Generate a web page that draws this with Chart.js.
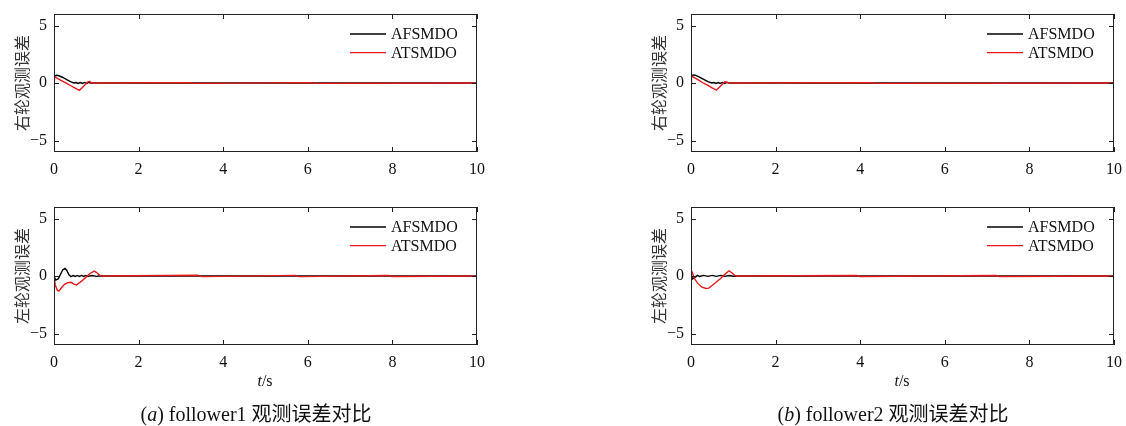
<!DOCTYPE html>
<html>
<head>
<meta charset="utf-8">
<script src="https://cdn.jsdelivr.net/npm/chart.js@4/dist/chart.umd.min.js"></script>
<style>
  html, body { margin: 0; padding: 0; background: #fff; overflow: hidden; }
  body { width: 1126px; height: 426px; position: relative; }
  canvas { position: absolute; }
  .lbl { position: absolute; font-family: "Liberation Serif", "Noto Sans CJK SC", serif; color: #111; white-space: nowrap; transform: translate(-50%, -50%); }
  .xt { font-size: 16px; }
  .cap { font-size: 20px; }
</style>
</head>
<body>
<canvas id="aTop" width="497" height="182" style="left:0;top:0"></canvas>
<canvas id="aBot" width="497" height="181" style="left:0;top:194px"></canvas>
<canvas id="bTop" width="489" height="182" style="left:637px;top:0"></canvas>
<canvas id="bBot" width="489" height="181" style="left:637px;top:194px"></canvas>

<div class="lbl xt" style="left:265px;top:381px"><i>t</i>/s</div>
<div class="lbl xt" style="left:902px;top:381px"><i>t</i>/s</div>
<div class="lbl cap" style="left:256px;top:412px">(<i>a</i>) follower1 观测误差对比</div>
<div class="lbl cap" style="left:893px;top:412px">(<i>b</i>) follower2 观测误差对比</div>

<script>
// series names
const seriesNames = ['AFSMDO', 'ATSMDO'];
// axis ticks
const xTickValues = [0, 2, 4, 6, 8, 10];
const yTickValues = [-5, 0, 5];
const yRange = [-6, 6];
const xRange = [0, 10];

// follower1, right wheel: [t, error]
const f1RightAFSMDO = [[0,0.55],[0.05,0.67],[0.1,0.65],[0.2,0.5],[0.3,0.3],[0.4,0.1],[0.47,0.0],[0.52,0.04],[0.57,-0.04],[0.62,0.04],[0.67,-0.04],[0.72,0.05],[0.77,-0.04],[0.82,0.05],[0.87,0],[10,0]];
const f1RightATSMDO = [[0,0],[0.01,0.55],[0.1,0.36],[0.2,0.16],[0.3,-0.04],[0.4,-0.24],[0.5,-0.44],[0.6,-0.64],[0.7,-0.28],[0.8,0.1],[0.84,0.14],[0.9,0.0],[3.2,0.03],[3.3,-0.03],[6.1,0.03],[6.2,-0.03],[10,0]];
// follower1, left wheel
const f1LeftAFSMDO = [[0,0],[0.04,-0.35],[0.1,-0.25],[0.16,0.2],[0.21,0.55],[0.26,0.66],[0.3,0.5],[0.35,0.12],[0.4,-0.05],[0.45,0.04],[0.5,-0.04],[0.55,0.05],[0.6,-0.04],[0.65,0.05],[0.7,-0.04],[0.75,0.05],[0.8,-0.04],[0.9,0.04],[1.0,-0.03],[1.05,0],[10,0]];
const f1LeftATSMDO = [[0,0],[0.03,-0.8],[0.08,-1.25],[0.12,-1.3],[0.18,-1.0],[0.25,-0.72],[0.32,-0.58],[0.4,-0.55],[0.47,-0.7],[0.53,-0.78],[0.65,-0.45],[0.75,-0.12],[0.85,0.22],[0.95,0.42],[1.0,0.32],[1.08,0.06],[1.15,0],[3.4,0.06],[3.5,-0.05],[5.7,0.05],[5.8,-0.05],[7.9,0.04],[8.0,-0.04],[10,0]];
// follower2, right wheel
const f2RightAFSMDO = [[0,0.6],[0.05,0.7],[0.1,0.68],[0.2,0.52],[0.3,0.32],[0.4,0.12],[0.49,0.0],[0.54,0.04],[0.59,-0.04],[0.64,0.04],[0.69,-0.04],[0.74,0.05],[0.79,-0.04],[0.85,0.05],[0.9,0],[10,0]];
const f2RightATSMDO = [[0,0],[0.01,0.62],[0.1,0.42],[0.2,0.2],[0.3,-0.02],[0.4,-0.2],[0.5,-0.42],[0.6,-0.62],[0.7,-0.26],[0.8,0.1],[0.85,0.08],[0.9,0.0],[4.3,0.03],[4.4,-0.03],[10,0]];
// follower2, left wheel
const f2LeftAFSMDO = [[0,0.1],[0.04,-0.25],[0.1,-0.1],[0.15,0.05],[0.2,-0.04],[0.3,0.05],[0.4,-0.03],[0.5,0.05],[0.6,-0.03],[0.7,0.05],[0.8,-0.03],[0.9,0.04],[1.0,-0.02],[1.1,0],[10,0]];
const f2LeftATSMDO = [[0,0],[0.03,0.3],[0.08,-0.2],[0.15,-0.6],[0.25,-0.95],[0.35,-1.08],[0.42,-1.05],[0.5,-0.82],[0.6,-0.52],[0.7,-0.22],[0.8,0.14],[0.9,0.45],[0.97,0.26],[1.05,0.02],[1.1,0],[3.9,0.04],[4.0,-0.04],[7.2,0.04],[7.3,-0.04],[10,0]];

const colors = ['#000000', '#e5191c'];
const serif = '"Liberation Serif", "Times New Roman", serif';

// box frame, inward tick marks on all four sides, and an inline legend
const framePlugin = {
  id: 'frameTicks',
  afterDatasetsDraw(chart) {
    const { ctx, chartArea: a, scales: { x, y } } = chart;
    ctx.save();
    ctx.strokeStyle = '#222';
    ctx.lineWidth = 1;
    ctx.strokeRect(a.left + 0.5, a.top + 0.5, a.right - a.left - 1, a.bottom - a.top - 1);
    const len = 5;
    ctx.beginPath();
    x.ticks.forEach(t => {
      const px = Math.round(x.getPixelForValue(t.value)) + 0.5;
      ctx.moveTo(px, a.bottom); ctx.lineTo(px, a.bottom - len);
      ctx.moveTo(px, a.top); ctx.lineTo(px, a.top + len);
    });
    y.ticks.forEach(t => {
      const py = Math.round(y.getPixelForValue(t.value)) + 0.5;
      ctx.moveTo(a.left, py); ctx.lineTo(a.left + len, py);
      ctx.moveTo(a.right, py); ctx.lineTo(a.right - len, py);
    });
    ctx.stroke();

    // legend
    ctx.font = '16px ' + serif;
    ctx.textBaseline = 'middle';
    ctx.textAlign = 'left';
    chart.data.datasets.forEach((ds, i) => {
      const ly = a.top + 20 + i * 18.7;
      ctx.strokeStyle = ds.borderColor;
      ctx.lineWidth = 1.3;
      ctx.beginPath();
      ctx.moveTo(a.right - 127, ly); ctx.lineTo(a.right - 91, ly);
      ctx.stroke();
      ctx.fillStyle = '#111';
      ctx.fillText(ds.label, a.right - 86, ly + 1);
    });
    ctx.restore();
  }
};

function makePanel(id, dataA, dataB, yTitle, padRight) {
  const toPts = arr => arr.map(([t, v]) => ({ x: t, y: v }));
  new Chart(document.getElementById(id), {
    type: 'line',
    data: {
      datasets: [
        { label: seriesNames[0], data: toPts(dataA), borderColor: colors[0], borderWidth: 1.4, pointRadius: 0, tension: 0, order: 1 },
        { label: seriesNames[1], data: toPts(dataB), borderColor: colors[1], borderWidth: 1.4, pointRadius: 0, tension: 0, order: 0 }
      ]
    },
    options: {
      responsive: false,
      animation: false,
      devicePixelRatio: 1,
      layout: { padding: { top: id.endsWith('Top') ? 14 : 13, right: padRight, left: 0, bottom: 0 } },
      plugins: { legend: { display: false }, tooltip: { enabled: false } },
      scales: {
        x: {
          type: 'linear', min: xRange[0], max: xRange[1],
          grid: { display: false, drawTicks: false },
          border: { display: false },
          afterBuildTicks: s => { s.ticks = xTickValues.map(v => ({ value: v })); },
          afterFit: s => { s.height = 30; s.paddingLeft = 0; s.paddingRight = 0; },
          ticks: { padding: 8, color: '#111', font: { family: serif, size: 16 }, callback: v => String(v) }
        },
        y: {
          type: 'linear', min: yRange[0], max: yRange[1],
          grid: { display: false, drawTicks: false },
          border: { display: false },
          afterBuildTicks: s => { s.ticks = yTickValues.map(v => ({ value: v })); },
          afterFit: s => { s.width = 54; s.paddingTop = 0; s.paddingBottom = 0; },
          ticks: { padding: 7, color: '#111', font: { family: serif, size: 16 }, callback: v => (v < 0 ? '\u2212' + Math.abs(v) : String(v)) },
          title: { display: true, text: yTitle, color: '#333', padding: { top: 12, bottom: 0 }, font: { family: '"Noto Sans CJK SC", sans-serif', size: 16 } }
        }
      }
    },
    plugins: [framePlugin]
  });
}

makePanel('aTop', f1RightAFSMDO, f1RightATSMDO, '右轮观测误差', 20);
makePanel('aBot', f1LeftAFSMDO, f1LeftATSMDO, '左轮观测误差', 20);
makePanel('bTop', f2RightAFSMDO, f2RightATSMDO, '右轮观测误差', 12);
makePanel('bBot', f2LeftAFSMDO, f2LeftATSMDO, '左轮观测误差', 12);
</script>
</body>
</html>
